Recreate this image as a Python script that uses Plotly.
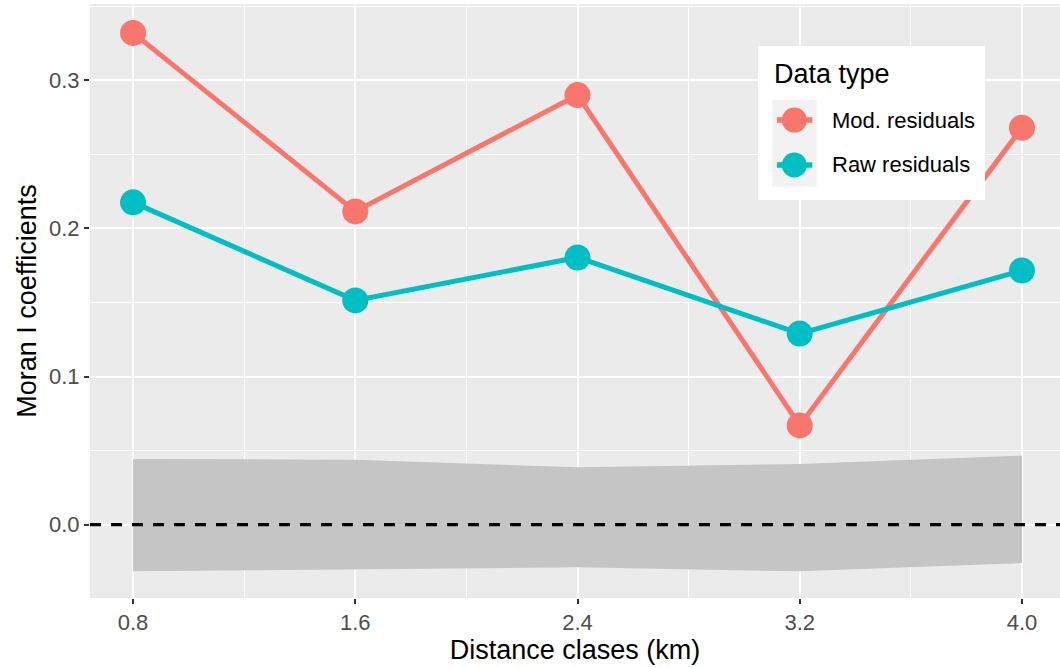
import plotly.graph_objects as go

distance = [0.8, 1.6, 2.4, 3.2, 4.0]
mod_residuals = [0.332, 0.2115, 0.290, 0.067, 0.268]
raw_residuals = [0.2176, 0.1514, 0.1804, 0.129, 0.1716]
band_upper = [0.0444, 0.0439, 0.0387, 0.0410, 0.0466]
band_lower = [-0.0315, -0.0304, -0.0288, -0.0315, -0.0259]
series_names = ["Mod. residuals", "Raw residuals"]
x_ticks = [0.8, 1.6, 2.4, 3.2, 4.0]
x_tick_text = ["0.8", "1.6", "2.4", "3.2", "4.0"]
y_ticks = [0.0, 0.1, 0.2, 0.3]
y_tick_text = ["0.0", "0.1", "0.2", "0.3"]
x_minor = [1.2, 2.0, 2.8, 3.6]
y_minor = [-0.05, 0.05, 0.15, 0.25, 0.35]

RED = "#F8766D"
TEAL = "#00BFC4"
FONT = "Liberation Sans, Arial, sans-serif"

fig = go.Figure()
fig.add_trace(go.Scatter(x=distance, y=band_lower, mode="lines", line=dict(width=0),
                         showlegend=False, hoverinfo="skip"))
fig.add_trace(go.Scatter(x=distance, y=band_upper, mode="lines", line=dict(width=0),
                         fill="tonexty", fillcolor="rgb(197,197,197)",
                         showlegend=False, hoverinfo="skip"))
fig.add_trace(go.Scatter(x=distance, y=mod_residuals, mode="lines+markers", name=series_names[0],
                         showlegend=False,
                         line=dict(color=RED, width=5), marker=dict(color=RED, size=26)))
fig.add_trace(go.Scatter(x=distance, y=raw_residuals, mode="lines+markers", name=series_names[1],
                         showlegend=False,
                         line=dict(color=TEAL, width=5), marker=dict(color=TEAL, size=26)))

# ---- custom ggplot-style legend, on an overlay axis spanning the plot area (0..1) ----
box_x = [0.6887, 0.9227, 0.9227, 0.6887, 0.6887]
box_y = [0.670, 0.670, 0.9293, 0.9293, 0.670]
key_x = [0.7034, 0.7492, 0.7492, 0.7034, 0.7034]
key_y = [0.6924, 0.6924, 0.8384, 0.8384, 0.6924]
fig.add_trace(go.Scatter(x=box_x, y=box_y, xaxis="x2", yaxis="y2", mode="lines", fill="toself",
                         fillcolor="white", line=dict(width=0), showlegend=False, hoverinfo="skip"))
fig.add_trace(go.Scatter(x=key_x, y=key_y, xaxis="x2", yaxis="y2", mode="lines", fill="toself",
                         fillcolor="#F2F2F2", line=dict(width=0), showlegend=False, hoverinfo="skip"))
entry_y = [0.8046, 0.7290]
for name, color, ey in zip(series_names, [RED, TEAL], entry_y):
    fig.add_trace(go.Scatter(x=[0.7082, 0.7446], y=[ey, ey], xaxis="x2", yaxis="y2", mode="lines",
                             line=dict(color=color, width=5.5), showlegend=False, hoverinfo="skip"))
    fig.add_trace(go.Scatter(x=[0.7261], y=[ey], xaxis="x2", yaxis="y2", mode="markers",
                             marker=dict(color=color, size=25), showlegend=False, hoverinfo="skip"))
    fig.add_annotation(text=name, xref="paper", yref="paper", x=0.7629, y=ey,
                       xanchor="left", yanchor="middle", showarrow=False,
                       font=dict(size=22, color="black", family=FONT))
fig.add_annotation(text="Data type", xref="paper", yref="paper", x=0.703, y=0.882,
                   xanchor="left", yanchor="middle", showarrow=False,
                   font=dict(size=27, color="black", family=FONT))

fig.add_shape(type="line", xref="paper", yref="y", x0=0, x1=1, y0=0, y1=0,
              line=dict(color="black", width=3.2, dash="11px,10px"), layer="above")

axis_common = dict(
    showgrid=True, gridcolor="white", gridwidth=2, zeroline=False, showline=False,
    ticks="outside", ticklen=5, tickwidth=2, tickcolor="#333333",
    tickfont=dict(size=22, color="#4D4D4D"),
)

fig.update_layout(
    width=1060, height=668,
    margin=dict(l=90, r=0, t=4, b=70),
    paper_bgcolor="white", plot_bgcolor="#EBEBEB",
    font=dict(family=FONT, color="#4D4D4D"),
    showlegend=False,
    xaxis=dict(
        range=[0.645, 4.137], tickvals=x_ticks, ticktext=x_tick_text,
        title=dict(text="Distance clases (km)", font=dict(size=27, color="black"), standoff=2),
        minor=dict(tickvals=x_minor, showgrid=True, gridcolor="white", gridwidth=1, ticks=""),
        **axis_common,
    ),
    yaxis=dict(
        range=[-0.0495, 0.3515], tickvals=y_ticks, ticktext=y_tick_text,
        title=dict(text="Moran I coefficients", font=dict(size=27, color="black"), standoff=4),
        minor=dict(tickvals=y_minor, showgrid=True, gridcolor="white", gridwidth=1, ticks=""),
        **axis_common,
    ),
    xaxis2=dict(overlaying="x", range=[0, 1], visible=False, fixedrange=True),
    yaxis2=dict(overlaying="y", range=[0, 1], visible=False, fixedrange=True),
)

fig.write_html("out.html")
